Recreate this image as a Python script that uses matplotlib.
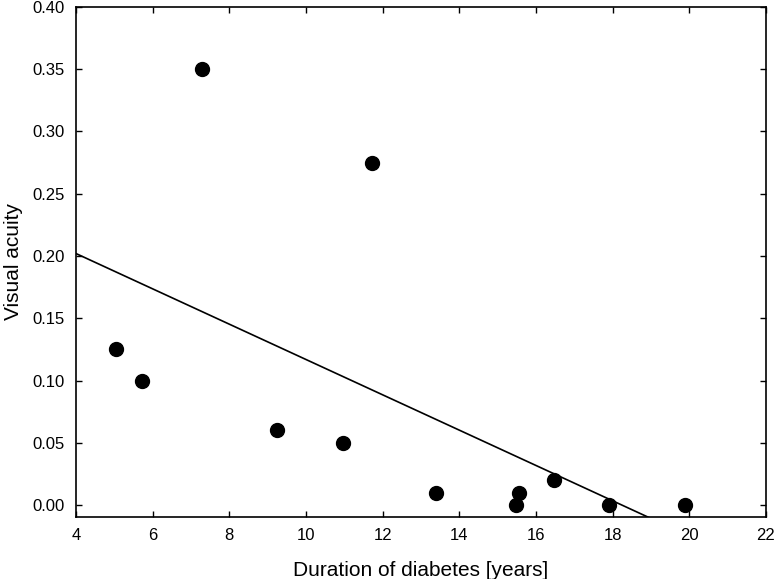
import numpy as np
import matplotlib.pyplot as plt

plt.rcParams['font.family'] = ['Liberation Sans', 'DejaVu Sans']

# duration of diabetes [years] and visual acuity
duration = [5.05, 5.72, 7.29, 9.24, 10.97, 11.72, 13.38, 15.48, 15.56, 16.47, 17.9, 19.88]
acuity = [0.125, 0.10, 0.35, 0.06, 0.05, 0.275, 0.01, 0.0, 0.01, 0.02, 0.0, 0.0]

# fitted line: acuity = a + b * duration
fit_a = 0.2587
fit_b = -0.01418

fig = plt.figure(figsize=(7.76, 5.79), dpi=100)
ax = fig.add_axes([0.098, 0.107, 0.889, 0.881])

xl = np.array([4, 22])
ax.plot(xl, fit_a + fit_b * xl, color='black', lw=1.2)
ax.plot(duration, acuity, 'o', color='black', markersize=10)

ax.set_xlim(4, 22)
ax.set_ylim(-0.0096, 0.40)
ax.set_xticks(np.arange(4, 23, 2))
ax.set_yticks(np.arange(0, 0.401, 0.05))
ax.set_yticklabels(['%.2f' % v for v in np.arange(0, 0.401, 0.05)])
ax.tick_params(direction='in', length=4, width=1, labelsize=12, top=True, right=True, pad=8)
for s in ax.spines.values():
    s.set_linewidth(1.2)

ax.set_xlabel('Duration of diabetes [years]', fontsize=15, labelpad=13)
ax.set_ylabel('Visual acuity', fontsize=15, labelpad=7)

fig.savefig('out.png', dpi=100)
